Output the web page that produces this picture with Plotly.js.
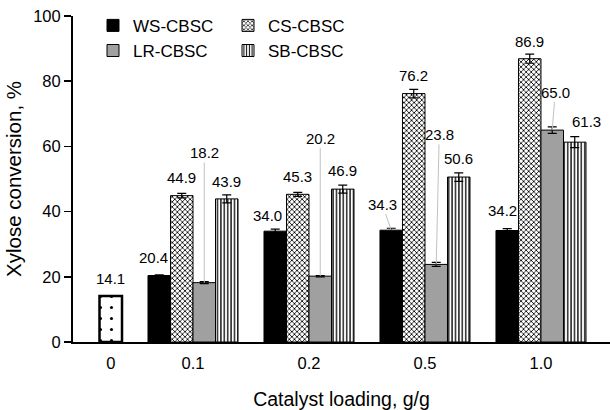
<!DOCTYPE html>
<html>
<head>
<meta charset="utf-8">
<script src="https://cdn.plot.ly/plotly-3.0.1.min.js"></script>
<style>html,body{margin:0;padding:0;background:#fff}#chart{width:610px;height:410px}</style>
</head>
<body>
<div id="chart"></div>
<script>
// ---- data ----
const categories = ['0', '0.1', '0.2', '0.5', '1.0'];
const loadedCats = ['0.1', '0.2', '0.5', '1.0'];
const controlCat = ['0'];
const controlValue = [14.1];
const controlErr = [0];
const wsValues = [20.4, 34.0, 34.3, 34.2];
const csValues = [44.9, 45.3, 76.2, 86.9];
const lrValues = [18.2, 20.2, 23.8, 65.0];
const sbValues = [43.9, 46.9, 50.6, 61.3];
const wsErr = [0.2, 0.6, 0.6, 0.6];
const csErr = [0.7, 0.6, 1.3, 1.4];
const lrErr = [0.3, 0.2, 0.6, 1.0];
const sbErr = [1.2, 1.25, 1.3, 1.7];
const seriesNames = ['WS-CBSC', 'CS-CBSC', 'LR-CBSC', 'SB-CBSC'];

// ---- label nudges (pixels) ----
const labelNudge = {
  'WS-CBSC': [{dx:-5.5, up:18.4}, {dx:-8, up:15.5}, {dx:-9, up:26, arrow:true}, {dx:-4.5, up:20}],
  'CS-CBSC': [{dx:0, up:18}, {dx:0, up:18}, {dx:0, up:18}, {dx:0, up:17}],
  'LR-CBSC': [{dx:0, up:130, arrow:true}, {dx:0, up:138, arrow:true}, {dx:3, up:130, arrow:true}, {dx:3, up:38, arrow:true}],
  'SB-CBSC': [{dx:0, up:17.6}, {dx:0, up:19}, {dx:0, up:18.5}, {dx:12, up:20.5}]
};

const FONT = 'Liberation Sans, Arial, sans-serif';
const bargap = 0.224;
const nSlots = 4;
const slotW = (1 - bargap) / nSlots;
const slotOffset = s => (s - (nSlots - 1) / 2) * slotW;

const errStyle = arr => ({type:'data', array:arr, visible:true, color:'#000', thickness:1.2, width:4.5});

const styles = [
  {color:'#000000', line:{color:'#000', width:1}},
  {color:'#ffffff', line:{color:'#000', width:1}, pattern:{shape:'x', size:3.6, solidity:0.4, fgcolor:'#000', bgcolor:'#ffffff'}},
  {color:'#a0a0a0', line:{color:'#000', width:1}},
  {color:'#ffffff', line:{color:'#000', width:1}, pattern:{shape:'|', size:3.4, solidity:0.38, fgcolor:'#000', bgcolor:'#ffffff'}}
];
const vals = [wsValues, csValues, lrValues, sbValues];
const errs = [wsErr, csErr, lrErr, sbErr];

const traces = seriesNames.map((name, i) => ({
  type:'bar', name:name, x:loadedCats, y:vals[i], offsetgroup:name,
  marker:styles[i], error_y:errStyle(errs[i]),
  legend: (i % 2 === 0) ? 'legend' : 'legend2',
  hoverinfo:'x+y+name'
}));
traces.push({
  type:'bar', name:'Control', x:controlCat, y:controlValue, offsetgroup:'SB-CBSC',
  marker:{color:'#fff', line:{color:'#000', width:2.5}, pattern:{shape:'.', size:11, solidity:0.06, fgcolor:'#000', bgcolor:'#fff'}},
  error_y:errStyle(controlErr), showlegend:false
});

// ---- labels ----
const annotations = [];
seriesNames.forEach((name, s) => {
  vals[s].forEach((v, k) => {
    const ci = categories.indexOf(loadedCats[k]);
    const n = labelNudge[name][k];
    const base = {x: ci + slotOffset(s), y: v, xref:'x', yref:'y', text: v.toFixed(1),
      font:{family:FONT, size:15, color:'#000'}};
    if (n.arrow) {
      annotations.push(Object.assign(base, {showarrow:true, arrowhead:0, arrowwidth:1, arrowcolor:'#c0c0c0',
        ax:n.dx, ay:-n.up, standoff:0, startstandoff:0}));
    } else {
      annotations.push(Object.assign(base, {showarrow:false, xshift:n.dx, yshift:n.up, yanchor:'middle'}));
    }
  });
});
annotations.push({x: categories.indexOf(controlCat[0]) + slotOffset(3), y: controlValue[0], xref:'x', yref:'y',
  text: controlValue[0].toFixed(1), showarrow:false, yshift:18, yanchor:'middle', font:{family:FONT, size:15, color:'#000'}});

const tickvals = categories.map((c, i) => i === 0 ? i + slotOffset(3) : i);

const layout = {
  width:610, height:410,
  margin:{l:73, r:0, t:16, b:68, pad:0},
  paper_bgcolor:'#fff', plot_bgcolor:'#fff',
  font:{family:FONT, color:'#000'},
  barmode:'group', bargap:bargap, bargroupgap:0,
  xaxis:{type:'category', categoryorder:'array', categoryarray:categories,
    range:[-0.0345, 4.595], tickmode:'array', tickvals:tickvals, ticktext:categories,
    showline:true, linecolor:'#000', linewidth:2, ticks:'', showgrid:false, zeroline:false,
    ticklabelstandoff:5,
    tickfont:{family:FONT, size:16.5, color:'#000'},
    title:{text:'Catalyst loading, g/g', font:{family:FONT, size:19.5, color:'#000'}, standoff:24}},
  yaxis:{range:[0, 100], dtick:20, tick0:0, showline:true, linecolor:'#000', linewidth:2,
    ticks:'outside', ticklen:7, tickwidth:1.5, tickcolor:'#000', showgrid:false, zeroline:false,
    tickfont:{family:FONT, size:16.5, color:'#000'},
    title:{text:'Xylose conversion, %', font:{family:FONT, size:20.5, color:'#000'}, standoff:6}},
  legend:{x:(93-73)/537, xanchor:'left', y:1.025, yanchor:'top', orientation:'v', bgcolor:'rgba(0,0,0,0)',
    font:{family:FONT, size:17, color:'#000'}, itemwidth:30, tracegroupgap:0},
  legend2:{x:(228-73)/537, xanchor:'left', y:1.025, yanchor:'top', orientation:'v', bgcolor:'rgba(0,0,0,0)',
    font:{family:FONT, size:17, color:'#000'}, itemwidth:30, tracegroupgap:0},
  annotations:annotations,
  showlegend:true
};

Plotly.newPlot('chart', traces, layout, {displayModeBar:false, staticPlot:true});
</script>
</body>
</html>
